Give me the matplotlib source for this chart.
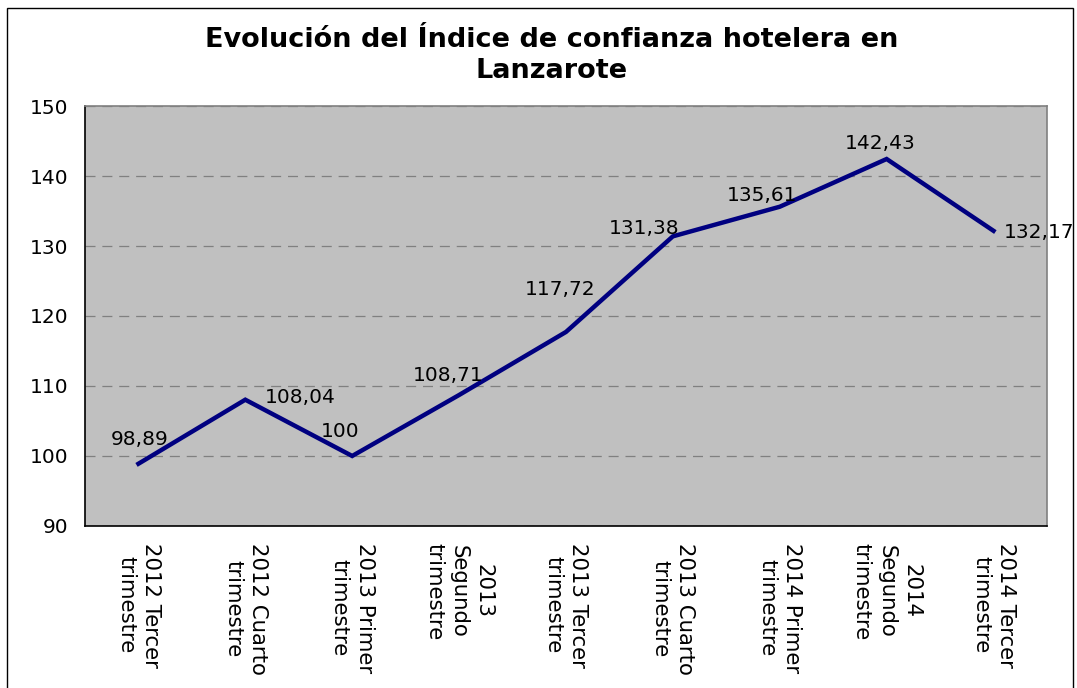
import matplotlib.pyplot as plt
from matplotlib.patches import Rectangle

## Data

categorias = ["2012 Tercer\ntrimestre", "2012 Cuarto\ntrimestre", "2013 Primer\ntrimestre",
              "2013\nSegundo\ntrimestre", "2013 Tercer\ntrimestre", "2013 Cuarto\ntrimestre",
              "2014 Primer\ntrimestre", "2014\nSegundo\ntrimestre", "2014 Tercer\ntrimestre"]
indice = [98.89, 108.04, 100, 108.71, 117.72, 131.38, 135.61, 142.43, 132.17]

# where each value label sits relative to its point (pixels) and its alignment
desplazamientos = [(1, 24), (20, 2), (-12, 24), (-11, 20), (-6, 42), (-29, 8), (-18, 11), (-6, 16), (10, -2)]
alineacion = ["center", "left", "center", "center", "center", "center", "center", "center", "left"]

## Plot

plt.rcParams['font.family'] = 'DejaVu Sans'
fig = plt.figure(figsize=(10.77, 6.88), dpi=100)
ax = fig.add_axes([0.0789, 0.2355, 0.8932, 0.6104])

x = list(range(len(indice)))
ax.plot(x, indice, color="#000080", linewidth=3.2, solid_joinstyle="miter")

for i, v in enumerate(indice):
    etiqueta = f"{v:g}".replace(".", ",")
    ax.annotate(etiqueta, (i, v), xytext=desplazamientos[i], textcoords="offset pixels",
                ha=alineacion[i], va="center", fontsize=14.5, color="black")

ax.set_xlim(-0.5, len(indice) - 0.5)
ax.set_ylim(90, 150)
ax.set_yticks(range(90, 151, 10))
ax.set_facecolor("#C0C0C0")
ax.yaxis.grid(True, color="#808080", linestyle=(0, (8, 5.5)), linewidth=0.9)
ax.set_axisbelow(True)

ax.set_xticks(x)
ax.set_xticklabels(categorias, rotation=270, ha="center", va="top", multialignment="center",
                   fontsize=15.3, linespacing=1.3)
ax.tick_params(axis="both", length=0)
ax.tick_params(axis="y", labelsize=14.5, pad=12)
ax.tick_params(axis="x", pad=12)

ax.spines["left"].set_color("black")
ax.spines["bottom"].set_color("black")
ax.spines["top"].set_color("#808080")
ax.spines["right"].set_color("#808080")
for s in ax.spines.values():
    s.set_linewidth(1.2)

fig.text(0.512, 0.9195, "Evolución del Índice de confianza hotelera en\nLanzarote",
         ha="center", va="center", fontsize=19.5, fontweight="bold", linespacing=1.25)

# outer chart border
fig.patches.append(Rectangle((7 / 1077, -0.02), 1066 / 1077, 1.02 - 8 / 688,
                             transform=fig.transFigure, fill=False, edgecolor="black", linewidth=1))

plt.savefig("out.png", dpi=100)
